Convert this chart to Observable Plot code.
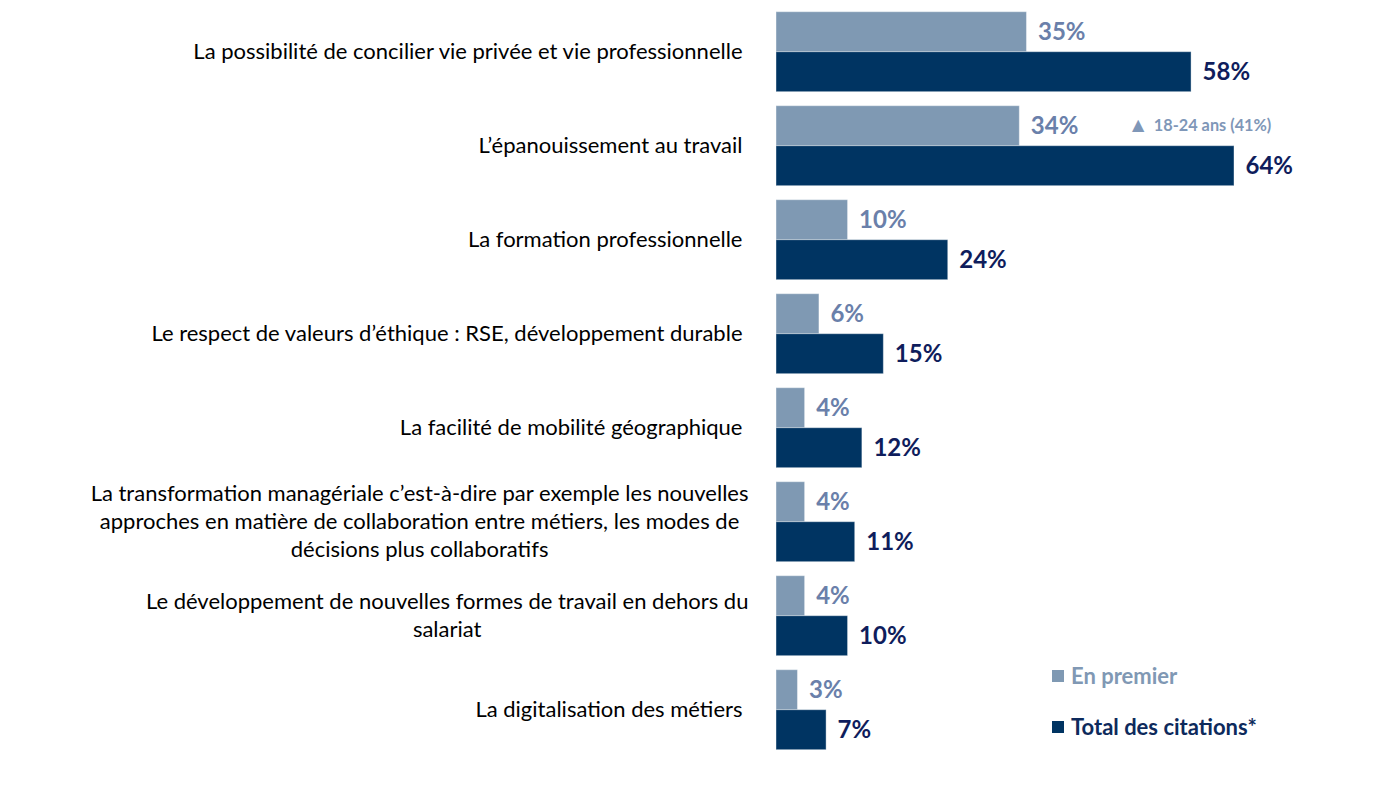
<!DOCTYPE html>
<html><head><meta charset="utf-8">
<script src="https://cdn.jsdelivr.net/npm/d3@7"></script>
<script src="https://cdn.jsdelivr.net/npm/@observablehq/plot@0.6"></script>
<style>
body{margin:0;background:#fff;font-family:Lato,"Open Sans",sans-serif;}
#wrap{position:relative;width:1400px;height:796px;}
.leg{position:absolute;left:1052px;font-weight:bold;font-size:22px;display:flex;align-items:center;}
.leg span.sw{display:inline-block;width:12px;height:12px;margin-right:7px;}
</style>
</head><body>
<div id="wrap"></div>
<script>
const categories = [
  "La possibilité de concilier vie privée et vie professionnelle",
  "L’épanouissement au travail",
  "La formation professionnelle",
  "Le respect de valeurs d’éthique : RSE, développement durable",
  "La facilité de mobilité géographique",
  "La transformation managériale c’est-à-dire par exemple les nouvelles\napproches en matière de collaboration entre métiers, les modes de\ndécisions plus collaboratifs",
  "Le développement de nouvelles formes de travail en dehors du\nsalariat",
  "La digitalisation des métiers"
];
const seriesNames = ["En premier", "Total des citations*"];
const enPremier = [35, 34, 10, 6, 4, 4, 4, 3];
const totalCitations = [58, 64, 24, 15, 12, 11, 10, 7];
const annotations = [{category: categories[1], series: "En premier", value: 34, text: "18-24 ans (41%)"}];

const barColors = ["#7F99B3", "#003462"];
const labelColors = ["#6A80AA", "#0F1D5C"];

const rows = [];
categories.forEach((c, i) => {
  rows.push({category: c, series: seriesNames[0], value: enPremier[i]});
  rows.push({category: c, series: seriesNames[1], value: totalCitations[i]});
});

const chart = Plot.plot({
  width: 1400,
  height: 796,
  marginLeft: 776,
  marginRight: 51.5,
  marginTop: 6.3,
  marginBottom: 41.3,
  style: {fontFamily: "Lato, 'Open Sans', sans-serif", background: "#fff"},
  x: {domain: [0, 80], axis: null},
  y: {domain: seriesNames, axis: null, padding: 0},
  fy: {domain: categories, axis: null, paddingInner: 0.1383, paddingOuter: 0.05},
  color: {domain: seriesNames, range: barColors},
  marks: [
    Plot.barX(rows, {x: "value", y: "series", fy: "category", fill: "series", stroke: "#fff", strokeOpacity: 0.4, strokeWidth: 1}),
    Plot.text(rows.filter(d => d.series === seriesNames[0]), {x: "value", y: "series", fy: "category", text: d => d.value + "%", dx: 11, textAnchor: "start", fill: labelColors[0], fontWeight: "bold", fontSize: 24}),
    Plot.text(rows.filter(d => d.series === seriesNames[1]), {x: "value", y: "series", fy: "category", text: d => d.value + "%", dx: 11, textAnchor: "start", fill: labelColors[1], fontWeight: "bold", fontSize: 24}),
    Plot.text(annotations, {x: "value", y: "series", fy: "category", text: d => "▲", dx: 108, dy: -1, textAnchor: "start", fill: "#7F97B8", fontSize: 21}),
    Plot.text(annotations, {x: "value", y: "series", fy: "category", text: "text", dx: 134, textAnchor: "start", fill: "#7F97B8", fontWeight: "bold", fontSize: 16.3}),
    Plot.text(categories, {fy: d => d, x: 0, text: d => d, frameAnchor: "middle", textAnchor: "end", dx: -34, dy: -2, fill: "#000", fontSize: 22, lineHeight: 1.27})
  ]
});

const wrap = document.getElementById("wrap");
wrap.appendChild(chart);

// center multi-line category labels
chart.querySelectorAll("text").forEach(t => {
  const tspans = t.querySelectorAll("tspan");
  if (tspans.length > 1) {
    const w = t.getBBox().width;
    t.setAttribute("text-anchor", "middle");
    tspans.forEach(s => s.setAttribute("x", -w / 2 + 6));
  }
});

// legend
const legTops = [662, 713];
seriesNames.forEach((s, i) => {
  const d = document.createElement("div");
  d.className = "leg";
  d.style.top = legTops[i] + "px";
  d.style.color = i === 0 ? "#8098B4" : "#0D2A5C";
  d.innerHTML = `<span class="sw" style="background:${barColors[i]}"></span>${s}`;
  wrap.appendChild(d);
});
</script>
</body></html>
